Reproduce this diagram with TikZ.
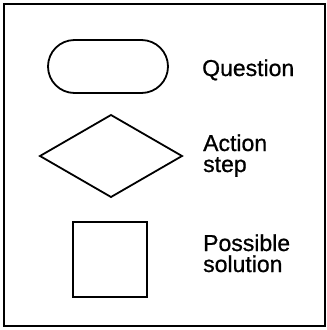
\documentclass[tikz,border=0pt]{standalone}
\usepackage{fontspec}
\setmainfont[FakeBold=0.8]{Liberation Sans}
\usetikzlibrary{shapes.geometric}
\begin{document}
\begin{tikzpicture}[x=1pt,y=-1pt,
  shapeline/.style={draw=black, line width=1.8pt, inner sep=0pt, outer sep=0pt},
  label/.style={anchor=base west, inner sep=0pt, align=left,
    font=\fontsize{23}{21}\selectfont},
  frameline/.style={draw=black, line width=2.4pt, inner sep=0pt}]
\useasboundingbox (0,0) rectangle (327,330);
\node[frameline, minimum width=321pt, minimum height=322pt] (frame) at (164.5,165) {};
\node[shapeline, rectangle, rounded corners=26.5pt, minimum width=120pt, minimum height=53pt] (question) at (108,66.5) {};
\node[shapeline, diamond, minimum width=142pt, minimum height=82pt] (action) at (111,156) {};
\node[shapeline, rectangle, minimum width=74pt, minimum height=75pt] (solution) at (110,259.5) {};
\node[label] (qlabel) at (202,76) {Question};
\node[label] (alabel) at (203,172) {Action\\step};
\node[label] (slabel) at (203,272) {Possible\\solution};
\end{tikzpicture}
\end{document}
